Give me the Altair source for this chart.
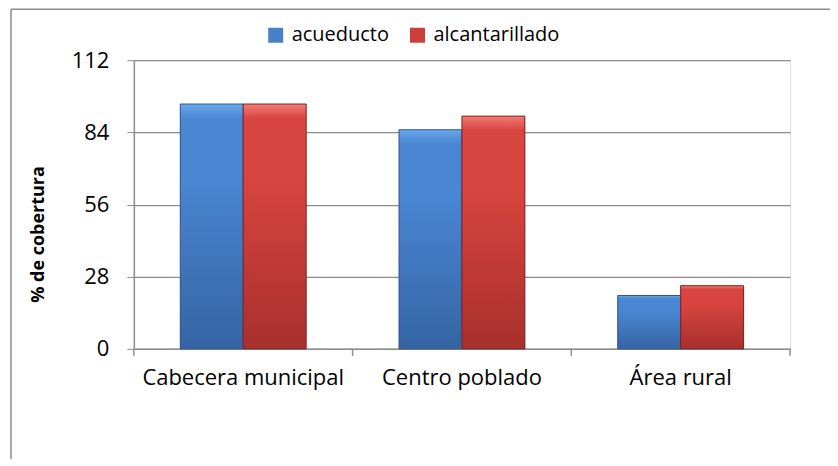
import altair as alt
import pandas as pd

categorias = ["Cabecera municipal", "Centro poblado", "Área rural"]
series = ["acueducto", "alcantarillado"]
acueducto = [95, 85, 20.7]
alcantarillado = [95, 90.3, 24.5]
y_ticks = [0, 28, 56, 84, 112]

rows = []
for c, a, b in zip(categorias, acueducto, alcantarillado):
    rows.append({"cat": c, "serie": "acueducto", "valor": a})
    rows.append({"cat": c, "serie": "alcantarillado", "valor": b})
df = pd.DataFrame(rows)

W, H = 657, 289
FONT = "Open Sans"
FS = 22
GRAY = "#8c8c8c"

x_enc = alt.X("cat:N", sort=categorias, title=None,
              scale=alt.Scale(paddingInner=0, paddingOuter=0),
              axis=alt.Axis(ticks=False, labelAngle=0, labelFontSize=FS, labelFont=FONT,
                            labelColor="#000000", labelPadding=19, domainColor=GRAY,
                            domainWidth=1.5, grid=False, labelLimit=400))
xo_enc = alt.XOffset("serie:N", sort=series,
                     scale=alt.Scale(paddingInner=0, paddingOuter=0.738))
y_enc = alt.Y("valor:Q", title="% de cobertura",
              scale=alt.Scale(domain=[0, 112], nice=False),
              axis=alt.Axis(values=y_ticks, labelFontSize=FS, labelFont=FONT,
                            labelColor="#000000", labelPadding=18, tickSize=7,
                            tickColor=GRAY, domainColor=GRAY, gridColor=GRAY,
                            gridWidth=1.2, domainWidth=1.5,
                            titleFont=FONT, titleFontSize=18, titleFontWeight="bold",
                            titleColor="#000000", titleX=-86, titleY=174,
                            titleAngle=-90, titleBaseline="bottom"))

base = alt.Chart(df).encode(x=x_enc, xOffset=xo_enc, y=y_enc)

bars = base.mark_bar().encode(
    color=alt.Color("serie:N", sort=series,
                    scale=alt.Scale(domain=series, range=["#4a80c8", "#cc3f3b"]),
                    legend=alt.Legend(title=None, orient="none", direction="horizontal",
                                      legendX=132, legendY=-35, symbolType="square",
                                      symbolSize=225, symbolStrokeWidth=0,
                                      labelFontSize=20, labelFont=FONT,
                                      labelColor="#000000", columnPadding=18,
                                      labelOffset=6, labelLimit=400))
)

def grad(top, mid, bot):
    return alt.Gradient(gradient="linear", x1=0, x2=0, y1=0, y2=1,
                        stops=[alt.GradientStop(color=top, offset=0),
                               alt.GradientStop(color=mid, offset=0.06),
                               alt.GradientStop(color=mid, offset=0.3),
                               alt.GradientStop(color=bot, offset=1)])

blue = base.transform_filter(alt.datum.serie == "acueducto").mark_bar(
    color=grad("#6aa8ec", "#4a86d2", "#3564a4"), stroke="#2d5690", strokeWidth=1)
red = base.transform_filter(alt.datum.serie == "alcantarillado").mark_bar(
    color=grad("#f27c77", "#d8443f", "#a8302c"), stroke="#7e2220", strokeWidth=1)

one = pd.DataFrame({"a": [0]})
ticks = alt.Chart(df.drop_duplicates("cat")).mark_rule(color=GRAY, strokeWidth=1.5).encode(
    x=alt.X("cat:N", sort=categorias, bandPosition=0),
    y=alt.value(H), y2=alt.value(H + 7))
end_tick = alt.Chart(one).mark_rule(color=GRAY, strokeWidth=1.5).encode(
    x=alt.value(W), y=alt.value(H), y2=alt.value(H + 7))

frame_v = alt.Chart(one).mark_rule(color=GRAY, strokeWidth=1.5).encode(
    x=alt.value(-123), y=alt.value(-51), y2=alt.value(H + 200))
frame_h = alt.Chart(one).mark_rule(color=GRAY, strokeWidth=1.5).encode(
    x=alt.value(-123), x2=alt.value(W + 200), y=alt.value(-51))

chart = alt.layer(bars, blue, red, ticks, end_tick, frame_v, frame_h).properties(
    width=W, height=H,
    autosize=alt.AutoSizeParams(type="none"),
    padding={"left": 126, "top": 52, "right": 40, "bottom": 110},
).configure_view(stroke=None).configure(background="white")

chart.save("out.html", embed_options={"renderer": "svg", "actions": False})
